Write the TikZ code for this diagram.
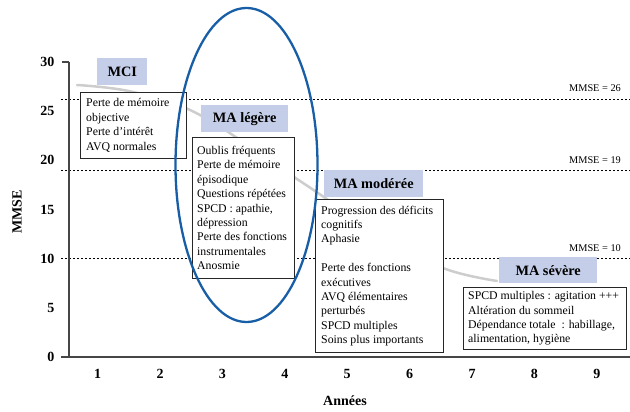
\documentclass[tikz,border=0pt]{standalone}
\usepackage{fontspec}
\setmainfont{Liberation Serif}
\definecolor{stagefill}{RGB}{197,206,232}
\definecolor{ellblue}{RGB}{24,94,166}
\definecolor{curvegray}{RGB}{205,205,205}
\definecolor{axisgray}{RGB}{70,70,70}
\begin{document}
\begin{tikzpicture}[x=1pt,y=-1pt,
  txtbox/.style={draw=black!85, line width=0.9pt, fill=white, anchor=north west, inner sep=0pt},
  boxtext/.style={anchor=west, align=left, inner sep=0pt, font=\fontsize{11.8}{14.4}\selectfont},
  stage/.style={fill=stagefill, anchor=north west, inner sep=0pt, font=\fontsize{14.3}{16}\selectfont\bfseries},
  ticklab/.style={font=\fontsize{14}{16}\selectfont\bfseries, inner sep=0pt},
  mmselab/.style={font=\fontsize{10.3}{12}\selectfont, anchor=base east, inner sep=0pt},
  levelline/.style={line width=0.8pt, dash pattern=on 2.2pt off 1.8pt},
  axisline/.style={draw=axisgray, line width=1.1pt},
  trend/.style={draw=curvegray, line width=2.5pt, line cap=round}
]
\useasboundingbox (0,0) rectangle (630,412);

% MMSE level lines
\coordinate (l26a) at (61,99.5);  \coordinate (l26b) at (630,99.5);
\coordinate (l19a) at (61,170.5); \coordinate (l19b) at (630,170.5);
\coordinate (l10a) at (61,258.5); \coordinate (l10b) at (630,258.5);
\draw[levelline] (l26a) -- (l26b);
\draw[levelline] (l19a) -- (l19b);
\draw[levelline] (l10a) -- (l10b);
\node[mmselab] (m26) at (621,92) {MMSE = 26};
\node[mmselab] (m19) at (621,163) {MMSE = 19};
\node[mmselab] (m10) at (621,251) {MMSE = 10};

% trend curve
\draw[trend] plot[smooth, tension=0.6] coordinates {(77,85) (133,92) (200,115) (300,181) (380,234) (443,268) (497,281)};

% axes
\coordinate (o) at (69,357);
\coordinate (ytop) at (69,62);
\coordinate (xend) at (630,357);
\draw[axisline] (ytop) -- (o) -- (xend);
\draw[axisline] (62,62) -- (ytop);
\draw[axisline] (61,357) -- (o);

\foreach \v/\yy in {30/62,25/111,20/160,15/209.5,10/258.7,5/308,0/357}
  \node[ticklab, anchor=east] (y\v) at (54.5,\yy) {\v};
\foreach \i in {1,...,9}
  \node[ticklab] (x\i) at ({35.2+62.4*\i},374) {\i};
\node[ticklab] (xlab) at (345,401) {Années};
\node[ticklab, rotate=90] (ylab) at (17,212) {MMSE};

% stage labels
\node[stage, minimum width=50pt, minimum height=27pt] (sMCI) at (97,58) {MCI};
\node[stage, minimum width=87pt, minimum height=27pt] (sLeg) at (201,105) {MA légère};
\node[stage, minimum width=99pt, minimum height=27pt] (sMod) at (324,170) {MA modérée};
\node[stage, minimum width=98pt, minimum height=26pt] (sSev) at (499,257) {MA sévère};

% text boxes
\node[txtbox, minimum width=106pt, minimum height=66pt] (bMCI) at (80,92) {};
\node[boxtext] (tMCI) at ([xshift=6pt]bMCI.west) {Perte de mémoire\\ objective\\ Perte d’intérêt\\ AVQ normales};

\node[txtbox, minimum width=102pt, minimum height=141pt] (bLeg) at (192,137) {};
\node[boxtext] (tLeg) at ([xshift=5pt]bLeg.west) {Oublis fréquents\\ Perte de mémoire\\ épisodique\\ Questions répétées\\ SPCD : apathie,\\ dépression\\ Perte des fonctions\\ instrumentales\\ Anosmie};

\node[txtbox, minimum width=128pt, minimum height=153pt] (bMod) at (315,199) {};
\node[boxtext] (tMod) at ([xshift=6pt]bMod.west) {Progression des déficits\\ cognitifs\\ Aphasie\\ ~\\ Perte des fonctions\\ exécutives\\ AVQ élémentaires\\ perturbés\\ SPCD multiples\\ Soins plus importants};

\node[txtbox, minimum width=163pt, minimum height=62pt] (bSev) at (463,287) {};
\node[boxtext] (tSev) at ([xshift=5pt]bSev.west) {SPCD multiples : agitation +++\\ Altération du sommeil\\ Dépendance totale~ : habillage,\\ alimentation, hygiène};

% ellipse
\draw[ellblue, line width=2.3pt] (246.5,165) ellipse [x radius=71, y radius=157];
\end{tikzpicture}
\end{document}
